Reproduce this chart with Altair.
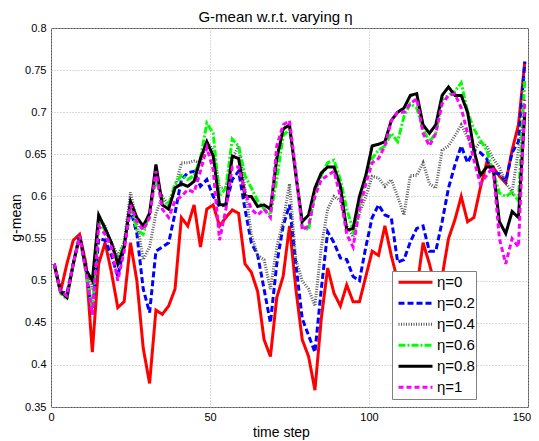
import altair as alt
import pandas as pd

# time steps (sampled every 2 steps)
t = list(range(1, 150, 2))

eta0 = [0.52, 0.487, 0.52, 0.548, 0.555, 0.52, 0.415, 0.52, 0.545, 0.51,
        0.468, 0.475, 0.545, 0.50, 0.42, 0.378, 0.465, 0.46, 0.47, 0.49,
        0.575, 0.565, 0.59, 0.54, 0.585, 0.59, 0.565, 0.575, 0.584, 0.58,
        0.52, 0.51, 0.487, 0.43, 0.41, 0.48, 0.505, 0.565, 0.49, 0.43,
        0.41, 0.37, 0.455, 0.515, 0.485, 0.47, 0.495, 0.475, 0.475, 0.505,
        0.535, 0.53, 0.565, 0.53, 0.50, 0.48, 0.47, 0.49, 0.545, 0.52,
        0.49, 0.505, 0.55, 0.572, 0.60, 0.57, 0.575, 0.61, 0.64, 0.635,
        0.624, 0.616, 0.655, 0.685, 0.76]

eta02 = [0.52, 0.487, 0.485, 0.52, 0.553, 0.515, 0.46, 0.55, 0.548, 0.53,
         0.505, 0.54, 0.585, 0.556, 0.49, 0.462, 0.535, 0.54, 0.545, 0.58,
         0.62, 0.628, 0.63, 0.612, 0.62, 0.60, 0.588, 0.59, 0.62, 0.63,
         0.585, 0.545, 0.53, 0.49, 0.45, 0.52, 0.565, 0.59, 0.52, 0.455,
         0.435, 0.415, 0.49, 0.558, 0.545, 0.527, 0.525, 0.505, 0.50, 0.54,
         0.575, 0.59, 0.578, 0.575, 0.522, 0.525, 0.546, 0.562, 0.565, 0.535,
         0.535, 0.57, 0.61, 0.637, 0.66, 0.64, 0.655, 0.652, 0.645, 0.628,
         0.627, 0.618, 0.652, 0.665, 0.76]

eta04 = [0.52, 0.487, 0.483, 0.52, 0.553, 0.515, 0.49, 0.575, 0.565, 0.545,
         0.53, 0.545, 0.605, 0.57, 0.525, 0.54, 0.58, 0.60, 0.59, 0.61,
         0.64, 0.64, 0.642, 0.64, 0.665, 0.655, 0.61, 0.61, 0.645, 0.66,
         0.61, 0.555, 0.53, 0.525, 0.49, 0.54, 0.57, 0.615, 0.525, 0.50,
         0.49, 0.47, 0.54, 0.585, 0.60, 0.595, 0.565, 0.552, 0.58, 0.60,
         0.624, 0.622, 0.612, 0.62, 0.60, 0.578, 0.625, 0.625, 0.64, 0.615,
         0.61, 0.655, 0.66, 0.672, 0.685, 0.67, 0.655, 0.665, 0.66, 0.645,
         0.635, 0.616, 0.605, 0.655, 0.70]

eta06 = [0.52, 0.485, 0.478, 0.52, 0.553, 0.51, 0.465, 0.57, 0.56, 0.545,
         0.52, 0.545, 0.59, 0.56, 0.555, 0.58, 0.62, 0.595, 0.59, 0.615,
         0.625, 0.62, 0.625, 0.645, 0.687, 0.675, 0.60, 0.61, 0.668, 0.66,
         0.625, 0.61, 0.595, 0.585, 0.578, 0.62, 0.672, 0.68, 0.63, 0.565,
         0.56, 0.605, 0.625, 0.64, 0.643, 0.62, 0.585, 0.56, 0.59, 0.625,
         0.645, 0.655, 0.66, 0.675, 0.665, 0.695, 0.71, 0.705, 0.68, 0.665,
         0.675, 0.715, 0.72, 0.725, 0.735, 0.70, 0.68, 0.667, 0.655, 0.63,
         0.604, 0.60, 0.605, 0.595, 0.74]

eta08 = [0.52, 0.487, 0.48, 0.52, 0.553, 0.513, 0.50, 0.578, 0.562, 0.545,
         0.52, 0.54, 0.594, 0.575, 0.565, 0.58, 0.638, 0.59, 0.585, 0.61,
         0.615, 0.612, 0.618, 0.645, 0.665, 0.648, 0.59, 0.59, 0.648, 0.645,
         0.60, 0.60, 0.588, 0.59, 0.585, 0.645, 0.68, 0.685, 0.625, 0.57,
         0.578, 0.61, 0.628, 0.635, 0.635, 0.612, 0.56, 0.562, 0.60, 0.625,
         0.66, 0.662, 0.665, 0.69, 0.70, 0.705, 0.72, 0.722, 0.685, 0.675,
         0.685, 0.72, 0.73, 0.72, 0.72, 0.70, 0.655, 0.625, 0.635, 0.635,
         0.57, 0.556, 0.582, 0.575, 0.70]

eta1 = [0.52, 0.487, 0.482, 0.52, 0.553, 0.51, 0.46, 0.565, 0.555, 0.54,
        0.50, 0.535, 0.59, 0.57, 0.56, 0.575, 0.63, 0.585, 0.575, 0.595,
        0.60, 0.608, 0.605, 0.63, 0.658, 0.632, 0.548, 0.585, 0.635, 0.635,
        0.605, 0.585, 0.578, 0.585, 0.575, 0.66, 0.685, 0.69, 0.63, 0.56,
        0.565, 0.60, 0.62, 0.625, 0.63, 0.60, 0.555, 0.54, 0.585, 0.615,
        0.64, 0.645, 0.66, 0.69, 0.70, 0.70, 0.71, 0.716, 0.675, 0.66,
        0.675, 0.71, 0.72, 0.722, 0.705, 0.675, 0.643, 0.615, 0.625, 0.635,
        0.55, 0.52, 0.55, 0.54, 0.715]

names = ["η=0", "η=0.2", "η=0.4", "η=0.6", "η=0.8", "η=1"]
series = [eta0, eta02, eta04, eta06, eta08, eta1]
colors = ["#ff0000", "#0000ff", "#5a5a5a", "#00ff00", "#000000", "#ff00ff"]
dashes = [[1, 0], [6, 3], [1, 1.5], [7, 2, 2, 2], [1, 0], [5, 3]]

x_ticks = [0, 50, 100, 150]
y_ticks = [0.35, 0.4, 0.45, 0.5, 0.55, 0.6, 0.65, 0.7, 0.75, 0.8]

rows = []
for k, (n, vals) in enumerate(zip(names, series)):
    for tt, v in zip(t, vals):
        rows.append({"t": tt, "g": v, "eta": n, "order": k})
df = pd.DataFrame(rows)

font = "Liberation Sans"

chart = alt.Chart(df).mark_line(strokeWidth=3, clip=True).encode(
    x=alt.X("t:Q", scale=alt.Scale(domain=[0, 150], nice=False),
            axis=alt.Axis(title="time step", values=x_ticks, labelFlush=False, titleX=230,
                          labelOffset={"condition": {"test": "datum.value == 150", "value": -6.5},
                                       "value": 0})),
    y=alt.Y("g:Q", scale=alt.Scale(domain=[0.35, 0.8], nice=False, zero=False),
            axis=alt.Axis(title="g-mean", format=".2~f", labelFlush=False, values=y_ticks)),
    color=alt.Color("eta:N", scale=alt.Scale(domain=names, range=colors),
                    legend=alt.Legend(title=None, orient="none", legendX=341, legendY=243,
                                      symbolType="stroke", symbolSize=1156, symbolStrokeWidth=3,
                                      clipHeight=20.3, padding=1, symbolOffset=4, labelOffset=3,
                                      labelFontSize=15, labelFont=font, labelColor="#000000",
                                      fillColor="#ffffff", strokeColor="#808080",
                                      rowPadding=0)),
    strokeDash=alt.StrokeDash("eta:N", scale=alt.Scale(domain=names, range=dashes)),
    order=alt.Order("order:Q"),
    detail="eta:N",
).properties(
    width=477, height=379,
    title=alt.TitleParams("G-mean w.r.t. varying η", fontSize=15, font=font,
                          fontWeight="normal", offset=0, dx=-14, dy=3, color="#000000"),
    autosize=alt.AutoSizeParams(type="none"),
    padding={"left": 43, "top": 20, "right": 3, "bottom": 33},
).configure_view(
    stroke="#555555", strokeWidth=1
).configure_axis(
    grid=True, gridDash=[1, 2], gridColor="#b5b5b5", gridOpacity=1,
    ticks=False, domain=False, labelFont=font, labelFontSize=11,
    labelColor="#000000", titleFont=font, titleFontSize=14,
    titleFontWeight="normal", titleColor="#000000"
).configure_axisX(
    labelPadding=4, titlePadding=3
).configure_axisY(
    labelPadding=5, titlePadding=1, titleFontSize=14
)

chart.save("out.html", embed_options={"renderer": "svg", "actions": False})
